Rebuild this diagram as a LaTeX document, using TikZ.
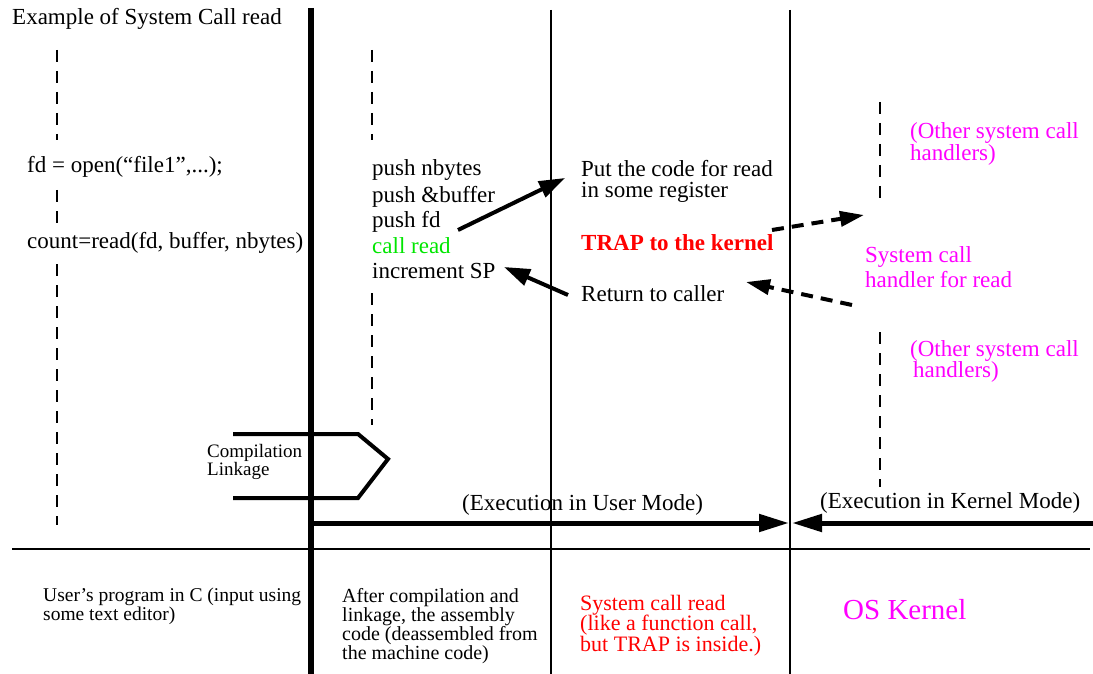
\documentclass[tikz,border=0pt]{standalone}
\usepackage{fontspec}
\setmainfont{Liberation Serif}
\usetikzlibrary{arrows.meta}
\definecolor{mag}{RGB}{255,0,255}
\definecolor{grn}{RGB}{0,230,0}
\definecolor{rd}{RGB}{255,0,0}
\newcommand\setfs[2]{\fontsize{#1}{#2}\selectfont}
\begin{document}
\begin{tikzpicture}[x=1pt,y=-1pt,
  txt/.style={anchor=base west,inner sep=0pt,font=\setfs{23}{25}},
  block/.style={anchor=north west,inner sep=0pt,align=left},
  thickline/.style={line width=6pt},
  thinline/.style={line width=1.5pt},
  dashline/.style={line width=1.3pt,dash pattern=on 12pt off 9pt},
  bigarrow/.style={line width=5pt,-{Triangle[length=30pt,width=17pt]}},
  slantarrow/.style={line width=4pt,-{Triangle[length=26pt,width=17pt]}},
  dasharrow/.style={line width=4pt,dash pattern=on 12pt off 8pt,-{Triangle[length=24pt,width=15pt]}},
  brace/.style={line width=4pt,line join=miter}]
\useasboundingbox (0,0) rectangle (1093,674);

% column separators and base line
\draw[thickline] (311,8) -- (311,674);
\draw[thinline] (551,10) -- (551,674);
\draw[thinline] (790,10) -- (790,674);
\draw[thinline] (12,549) -- (1090,549);

% title and C source column
\node[txt] (title) at (12,25) {Example of System Call read};
\draw[dashline] (57,50) -- (57,140);
\node[txt] (open) at (27,173) {fd = open(“file1”,...);};
\draw[dashline] (57,190) -- (57,230);
\node[txt] (read) at (27,248) {count=read(fd, buffer, nbytes)};
\draw[dashline] (57,264) -- (57,525);

% assembly column
\draw[dashline] (372,50) -- (372,140);
\node[txt] (p1) at (372,176) {push nbytes};
\node[txt] (p2) at (372,202) {push \&buffer};
\node[txt] (p3) at (372,227) {push fd};
\node[txt,text=grn] (p4) at (372,253) {call read};
\node[txt] (p5) at (372,278) {increment SP};
\draw[dashline] (372,293) -- (372,425);

% compilation / linkage marker
\draw[brace] (233,434) -- (358,434) -- (388,459) -- (358,498) -- (233,498);
\node[block,font=\setfs{19}{18}] (comp) at (207,444) {Compilation\\Linkage};

% system call read column
\node[block,font=\setfs{23}{21}] (put) at (581,160) {Put the code for read\\in some register};
\node[txt,text=rd,font=\setfs{23}{25}\bfseries] (trap) at (581,250) {TRAP to the kernel};
\node[txt] (ret) at (581,301) {Return to caller};

% kernel column
\draw[dashline] (880,102) -- (880,205);
\node[block,text=mag,font=\setfs{23}{20}] (o1) at (910,122) {(Other system call\\handlers)};
\node[block,text=mag,font=\setfs{23}{25}] (h) at (865,246) {System call\\handler for read};
\draw[dashline] (880,332) -- (880,487);
\node[block,text=mag,font=\setfs{23}{21}] (o2) at (910,340) {(Other system call\\\hspace*{3pt}handlers)};

% control flow arrows
\coordinate (a1s) at (458,230);
\coordinate (a1e) at (565,178);
\coordinate (a2s) at (568,295);
\coordinate (a2e) at (504,267);
\coordinate (d1s) at (772,230);
\coordinate (d1e) at (864,215);
\coordinate (d2s) at (852,305);
\coordinate (d2e) at (746,282);
\draw[slantarrow] (a1s) -- (a1e);
\draw[slantarrow] (a2s) -- (a2e);
\draw[dasharrow] (d1s) -- (d1e);
\draw[dasharrow] (d2s) -- (d2e);

% execution modes
\coordinate (um0) at (313,523);
\coordinate (um1) at (789,523);
\coordinate (km0) at (1093,523);
\coordinate (km1) at (792,523);
\draw[bigarrow] (um0) -- (um1);
\draw[bigarrow] (km0) -- (km1);
\node[txt] (umode) at (462,510) {(Execution in User Mode)};
\node[txt] (kmode) at (820,508) {(Execution in Kernel Mode)};

% column captions
\node[block,font=\setfs{19.5}{18.5}] (cap1) at (43,588) {User’s program in C (input using\\some text editor)};
\node[block,font=\setfs{20}{18}] (cap2) at (342,588) {After compilation and\\linkage, the assembly\\code (deassembled from\\the machine code)};
\node[block,text=rd,font=\setfs{22}{20.5}] (cap3) at (580,595) {System call read\\(like a function call,\\but TRAP is inside.)};
\node[txt,text=mag,font=\setfs{29}{30}] (cap4) at (843,619) {OS Kernel};
\end{tikzpicture}
\end{document}
